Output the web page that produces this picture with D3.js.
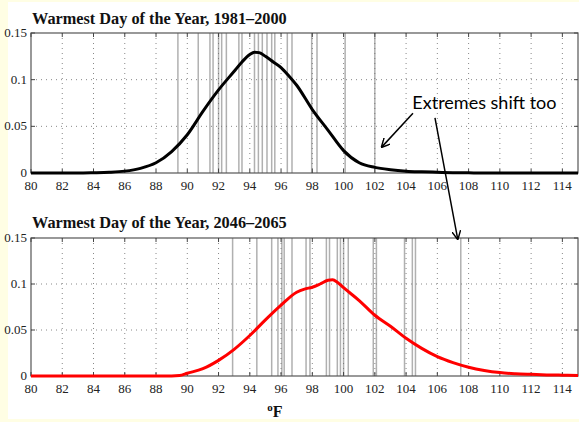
<!DOCTYPE html>
<html>
<head>
<meta charset="utf-8">
<script src="https://cdn.jsdelivr.net/npm/d3@7"></script>
<style>
  body { margin: 0; background: #fffee4; }
  svg { display: block; }
</style>
</head>
<body>
<div id="chart"></div>
<script>
// Density curve, 1981-2000 (deg F, probability)
const pastTemps = [80, 81, 82, 83, 84, 85, 86, 87, 88, 89, 90, 91, 92, 93, 93.5, 94, 94.3, 94.6, 95, 95.5, 96, 96.5, 97, 98, 99, 100, 101, 102, 103, 104, 105, 106, 107, 108, 109, 110, 112, 115];
const pastDensity = [0, 0, 0, 0, 0.0003, 0.0008, 0.002, 0.005, 0.011, 0.023, 0.041, 0.066, 0.089, 0.109, 0.119, 0.127, 0.1295, 0.129, 0.125, 0.119, 0.113, 0.104, 0.094, 0.068, 0.046, 0.024, 0.011, 0.006, 0.0035, 0.002, 0.0013, 0.0008, 0.0004, 0.0002, 0, 0, 0, 0];

// Density curve, 2046-2065
const futureTemps = [80, 82, 84, 86, 88, 89, 89.5, 90, 91, 92, 93, 94, 95, 96, 97, 97.5, 98, 98.5, 99, 99.3, 99.6, 100, 101, 102, 103, 104, 105, 106, 107, 108, 109, 110, 111, 112, 113, 114, 115];
const futureDensity = [0, 0, 0, 0, 0, 0, 0.0005, 0.003, 0.008, 0.017, 0.029, 0.044, 0.061, 0.077, 0.091, 0.0945, 0.0965, 0.100, 0.104, 0.1045, 0.102, 0.096, 0.082, 0.066, 0.054, 0.041, 0.030, 0.021, 0.0145, 0.0095, 0.006, 0.0037, 0.0025, 0.0018, 0.0012, 0.0009, 0.0005];

// Warmest day of each year (vertical lines)
const pastMaxima = [89.4, 90.7, 91.45, 91.65, 92.0, 92.2, 92.5, 93.3, 93.5, 94.3, 94.55, 94.8, 95.1, 95.4, 95.6, 96.4, 96.7, 97.96, 98.3, 100.1, 102.0];
const futureMaxima = [92.9, 94.45, 95.4, 95.8, 96.05, 96.2, 96.7, 97.6, 97.85, 98.9, 99.1, 99.6, 99.8, 100.0, 100.3, 101.9, 102.1, 103.9, 104.4, 104.6, 107.5];

// Axis ticks and labels
const xTicks = d3.range(80, 115, 2);
const yTicks = [0, 0.05, 0.1, 0.15];
const titles = ["Warmest Day of the Year, 1981\u20132000", "Warmest Day of the Year, 2046\u20132065"];
const annotationText = "Extremes shift too";

const width = 579, height = 422;
const left = 31, right = 578;
const serif = "Liberation Serif, Times New Roman, serif";

const svg = d3.select("#chart").append("svg")
    .attr("width", width)
    .attr("height", height);

// white card on yellow page
svg.append("rect")
    .attr("x", 8).attr("y", 2)
    .attr("width", width - 8).attr("height", 417)
    .attr("fill", "#fff");

const x = d3.scaleLinear().domain([80, 115]).range([left, right]);

const panels = [
    { top: 33, bottom: 173, temps: pastTemps, dens: pastDensity, maxima: pastMaxima, color: "#000", title: titles[0], titleY: 24 },
    { top: 238, bottom: 376, temps: futureTemps, dens: futureDensity, maxima: futureMaxima, color: "#ff0000", title: titles[1], titleY: 228 }
];

const ys = [];

panels.forEach(p => {
    const y = d3.scaleLinear().domain([0, 0.15]).range([p.bottom, p.top]);
    ys.push(y);
    const g = svg.append("g");

    // title
    g.append("text")
        .attr("x", left + 1)
        .attr("y", p.titleY)
        .attr("font-family", serif)
        .attr("font-weight", "bold")
        .attr("font-size", 16.3)
        .attr("fill", "#111")
        .text(p.title);

    // dotted grid
    g.selectAll(".vgrid")
        .data(xTicks.filter(d => d > 80))
        .enter().append("line")
        .attr("x1", d => x(d)).attr("x2", d => x(d))
        .attr("y1", p.top).attr("y2", p.bottom)
        .attr("stroke", "#888")
        .attr("stroke-width", 1)
        .attr("stroke-dasharray", "1,4");
    g.selectAll(".hgrid")
        .data([0.05, 0.1])
        .enter().append("line")
        .attr("x1", left).attr("x2", right)
        .attr("y1", d => y(d)).attr("y2", d => y(d))
        .attr("stroke", "#888")
        .attr("stroke-width", 1)
        .attr("stroke-dasharray", "1,4");

    // yearly maxima
    g.selectAll(".maxLine")
        .data(p.maxima)
        .enter().append("line")
        .attr("x1", d => x(d)).attr("x2", d => x(d))
        .attr("y1", p.top).attr("y2", p.bottom)
        .attr("stroke", "#6f6f6f")
        .attr("stroke-opacity", 0.55)
        .attr("stroke-width", 1.5);

    // box
    g.append("rect")
        .attr("x", left).attr("y", p.top)
        .attr("width", right - left).attr("height", p.bottom - p.top)
        .attr("fill", "none")
        .attr("stroke", "#555")
        .attr("stroke-width", 1.2);

    // inward ticks, top & bottom
    xTicks.forEach(t => {
        g.append("line")
            .attr("x1", x(t)).attr("x2", x(t))
            .attr("y1", p.bottom).attr("y2", p.bottom - 4)
            .attr("stroke", "#444");
        g.append("line")
            .attr("x1", x(t)).attr("x2", x(t))
            .attr("y1", p.top).attr("y2", p.top + 4)
            .attr("stroke", "#444");
    });
    yTicks.forEach(t => {
        g.append("line")
            .attr("x1", left).attr("x2", left + 4)
            .attr("y1", y(t)).attr("y2", y(t))
            .attr("stroke", "#444");
        g.append("line")
            .attr("x1", right).attr("x2", right - 4)
            .attr("y1", y(t)).attr("y2", y(t))
            .attr("stroke", "#444");
    });

    // tick labels
    g.selectAll(".xlab")
        .data(xTicks)
        .enter().append("text")
        .attr("x", d => x(d))
        .attr("y", p.bottom + 17)
        .attr("text-anchor", "middle")
        .attr("font-family", serif)
        .attr("font-size", 13)
        .attr("fill", "#222")
        .text(d => d);
    g.selectAll(".ylab")
        .data(yTicks)
        .enter().append("text")
        .attr("x", left - 4)
        .attr("y", d => y(d))
        .attr("dy", "0.3em")
        .attr("text-anchor", "end")
        .attr("font-family", serif)
        .attr("font-size", 13)
        .attr("fill", "#222")
        .text(d => d);

    // density curve
    const line = d3.line()
        .x((d, i) => x(p.temps[i]))
        .y(d => y(d))
        .curve(d3.curveMonotoneX);
    g.append("path")
        .datum(p.dens)
        .attr("d", line)
        .attr("fill", "none")
        .attr("stroke", p.color)
        .attr("stroke-width", 3)
        .attr("stroke-linejoin", "round");
});

// x-axis label: degrees F
const unit = svg.append("text")
    .attr("x", 275)
    .attr("y", 417)
    .attr("text-anchor", "middle")
    .attr("font-family", serif)
    .attr("font-weight", "bold")
    .attr("font-size", 16)
    .attr("fill", "#111");
unit.append("tspan").attr("font-size", 11).attr("dy", -6).text("o");
unit.append("tspan").attr("dy", 6).text("F");

// annotation
svg.append("defs").append("marker")
    .attr("id", "arrow")
    .attr("viewBox", "0 0 10 10")
    .attr("refX", 9).attr("refY", 5)
    .attr("markerWidth", 9).attr("markerHeight", 9)
    .attr("markerUnits", "userSpaceOnUse")
    .attr("orient", "auto")
    .append("path")
    .attr("d", "M0,0 L10,5 L0,10")
    .attr("fill", "none")
    .attr("stroke", "#000")
    .attr("stroke-width", 1.6);

svg.append("text")
    .attr("x", x(104.4))
    .attr("y", ys[0](0.0685))
    .attr("font-family", "Lato, Carlito, sans-serif")
    .attr("font-size", 18)
    .attr("fill", "#000")
    .text(annotationText);

svg.append("line")
    .attr("x1", x(104.44)).attr("y1", ys[0](0.064))
    .attr("x2", x(102.45)).attr("y2", ys[0](0.028))
    .attr("stroke", "#000").attr("stroke-width", 1.5)
    .attr("marker-end", "url(#arrow)");
svg.append("line")
    .attr("x1", x(105.85)).attr("y1", ys[0](0.059))
    .attr("x2", x(107.3)).attr("y2", ys[1](0.149))
    .attr("stroke", "#000").attr("stroke-width", 1.5)
    .attr("marker-end", "url(#arrow)");
</script>
</body>
</html>
